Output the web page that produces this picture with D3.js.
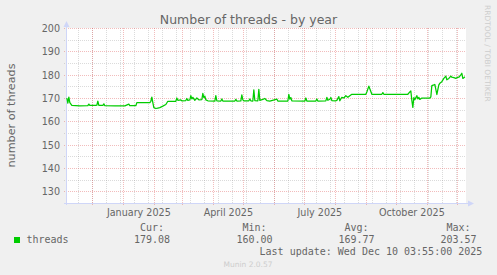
<!DOCTYPE html>
<html>
<head>
<meta charset="utf-8">
<script src="https://cdn.jsdelivr.net/npm/d3@7"></script>
<style>
  body { margin: 0; background: #F0F0F0; }
  svg { display: block; }
  text { font-family: "DejaVu Sans", sans-serif; fill: #666; }
  .mono { font-family: "DejaVu Sans Mono", monospace; }
</style>
</head>
<body>
<svg id="chart" width="497" height="275"></svg>
<script>
// daily averages
var days = [
  "2024-11-06","2024-11-07","2024-11-08","2024-11-09","2024-11-11","2024-11-19","2024-11-27","2024-11-28","2024-11-29",
  "2024-12-05","2024-12-06","2024-12-07","2024-12-08","2024-12-12","2024-12-13","2024-12-14","2024-12-24",
  "2025-01-03","2025-01-07","2025-01-08","2025-01-14","2025-01-15","2025-01-28","2025-01-29","2025-01-30","2025-01-31",
  "2025-02-01","2025-02-03","2025-02-05","2025-02-07","2025-02-10","2025-02-13","2025-02-15","2025-02-23","2025-02-24","2025-02-25","2025-02-28",
  "2025-03-01","2025-03-05","2025-03-06","2025-03-07","2025-03-09","2025-03-10","2025-03-11","2025-03-12","2025-03-14","2025-03-16","2025-03-18","2025-03-21","2025-03-22","2025-03-23","2025-03-24","2025-03-25","2025-03-27",
  "2025-04-03","2025-04-04","2025-04-05","2025-04-09","2025-04-10","2025-04-11","2025-04-23","2025-04-24","2025-04-25","2025-04-29","2025-04-30",
  "2025-05-01","2025-05-02","2025-05-07","2025-05-08","2025-05-09","2025-05-11","2025-05-12","2025-05-13","2025-05-16","2025-05-17","2025-05-18","2025-05-21","2025-05-23","2025-05-25","2025-05-28",
  "2025-06-04","2025-06-05","2025-06-15","2025-06-16","2025-06-17","2025-06-18","2025-06-19",
  "2025-07-02","2025-07-03","2025-07-04","2025-07-13","2025-07-14","2025-07-15","2025-07-23","2025-07-24","2025-07-25","2025-07-27","2025-07-28","2025-07-29",
  "2025-08-02","2025-08-03","2025-08-05","2025-08-06","2025-08-08","2025-08-10","2025-08-12","2025-08-14","2025-08-16","2025-08-18",
  "2025-09-01","2025-09-02","2025-09-04","2025-09-06","2025-09-07","2025-09-17","2025-09-18","2025-09-19",
  "2025-10-13","2025-10-15","2025-10-16","2025-10-17","2025-10-18","2025-10-19","2025-10-20","2025-10-22","2025-10-23","2025-10-24","2025-10-25","2025-10-27",
  "2025-11-04","2025-11-05","2025-11-06","2025-11-08","2025-11-09","2025-11-11","2025-11-13","2025-11-14","2025-11-16","2025-11-18","2025-11-20","2025-11-21","2025-11-23","2025-11-25","2025-11-26","2025-11-28","2025-11-30",
  "2025-12-01","2025-12-03","2025-12-05","2025-12-06","2025-12-07","2025-12-08","2025-12-09"
];
var threads = [
  170.0,167.8,170.4,168.0,166.8,166.6,166.7,167.4,166.8,
  166.8,166.9,168.7,166.8,166.8,167.5,166.7,166.6,
  166.6,167.4,166.7,166.7,168.0,168.0,168.6,170.4,168.0,
  165.9,165.5,165.7,165.9,166.5,167.2,168.6,168.6,170.0,169.0,169.2,
  168.8,168.9,169.8,169.0,169.2,171.0,169.6,170.3,169.0,170.0,169.2,169.3,172.0,170.2,170.8,169.2,168.8,
  168.7,171.0,168.8,168.7,169.6,168.7,168.7,169.4,168.7,168.8,171.3,
  169.2,168.8,168.8,169.6,168.8,168.7,173.5,168.9,168.8,173.7,169.0,169.4,169.8,168.9,168.7,
  169.5,168.7,168.7,171.6,169.5,170.2,168.8,
  168.7,170.0,168.7,168.7,169.6,168.7,168.8,170.3,169.0,169.5,170.2,168.9,
  168.8,169.0,170.6,168.8,170.3,170.0,171.0,170.3,171.0,171.6,
  171.6,172.6,175.1,172.8,171.6,171.6,172.3,171.6,
  171.6,172.6,173.0,169.0,166.0,170.2,169.3,171.0,169.6,170.3,169.4,170.0,
  170.0,170.5,175.3,175.6,175.8,171.5,175.6,176.3,177.0,178.4,179.4,177.8,178.4,179.4,178.9,178.7,178.4,
  178.7,178.9,179.9,180.6,178.4,178.7,179.1
];

var yTicks = [130, 140, 150, 160, 170, 180, 190, 200];
var monthLabels = ["January 2025", "April 2025", "July 2025", "October 2025"];
var labelMonths = ["2025-01", "2025-04", "2025-07", "2025-10"];
var statNames = ["Cur:", "Min:", "Avg:", "Max:"];
var statValues = ["179.08", "160.00", "169.77", "203.57"];
var seriesName = "threads";
var lastUpdate = "Last update: Wed Dec 10 03:55:00 2025";

var parseDay = d3.timeParse("%Y-%m-%d");
var parseMonth = d3.timeParse("%Y-%m");
var data = days.map(function(d, i) { return { t: parseDay(d), v: threads[i] }; });

var start = new Date(2024, 10, 5, 3, 55);
var end = new Date(2025, 11, 10, 3, 55);

var pL = 66, pR = 466, pT = 28, pB = 203;
var svg = d3.select("#chart");

var x = d3.scaleTime().domain([start, end]).range([pL, pR]);
var y = d3.scaleLinear().domain([125, 200]).range([pB, pT]);

var minorCol = "rgba(143,143,143,0.32)";
var majorCol = "rgba(222,79,79,0.38)";
var axisCol = "#CFD6F8";

// canvas
svg.append("rect").attr("x", pL).attr("y", pT)
  .attr("width", pR - pL).attr("height", pB - pT).attr("fill", "#fff");

// grid
var yMinor = d3.range(125, 201, 5).filter(function(v) { return v % 10 != 0; });
var anchor = new Date(2024, 10, 17);
var xMinor = d3.timeDay.range(start, end).filter(function(d) {
  return d3.timeDay.count(anchor, d) % 14 == 0;
});
var xMajor = d3.timeMonth.range(start, end);

var grid = svg.append("g").attr("shape-rendering", "crispEdges");
grid.selectAll(".hmin").data(yMinor).enter().append("line")
  .attr("x1", pL - 2).attr("x2", pR)
  .attr("y1", function(d) { return Math.round(y(d)) + 0.5; })
  .attr("y2", function(d) { return Math.round(y(d)) + 0.5; })
  .attr("stroke", minorCol).attr("stroke-dasharray", "1,1");
grid.selectAll(".vmin").data(xMinor).enter().append("line")
  .attr("y1", pT).attr("y2", pB)
  .attr("x1", function(d) { return Math.round(x(d)) + 0.5; })
  .attr("x2", function(d) { return Math.round(x(d)) + 0.5; })
  .attr("stroke", minorCol).attr("stroke-dasharray", "1,1");
grid.selectAll(".hmaj").data(yTicks).enter().append("line")
  .attr("x1", pL - 2).attr("x2", pR)
  .attr("y1", function(d) { return Math.round(y(d)) + 0.5; })
  .attr("y2", function(d) { return Math.round(y(d)) + 0.5; })
  .attr("stroke", majorCol).attr("stroke-dasharray", "1,1");
grid.selectAll(".vmaj").data(xMajor).enter().append("line")
  .attr("y1", pT).attr("y2", pB + 3)
  .attr("x1", function(d) { return Math.round(x(d)) + 0.5; })
  .attr("x2", function(d) { return Math.round(x(d)) + 0.5; })
  .attr("stroke", majorCol).attr("stroke-dasharray", "1,1");

// axes lines + arrows
svg.append("line").attr("x1", pL + 0.5).attr("x2", pL + 0.5)
  .attr("y1", pB + 2).attr("y2", pT - 2).attr("stroke", axisCol);
svg.append("line").attr("x1", pL - 2).attr("x2", pR + 2)
  .attr("y1", pB + 0.5).attr("y2", pB + 0.5).attr("stroke", axisCol);
svg.append("path").attr("d", "M63.5,27 L66.5,21 L69.5,27 Z").attr("fill", axisCol);
svg.append("path").attr("d", "M468,200.5 L474,203.5 L468,206.5 Z").attr("fill", axisCol);

// data line
var line = d3.line().x(function(d) { return x(d.t); }).y(function(d) { return y(d.v); });
svg.append("path").datum(data).attr("d", line)
  .attr("fill", "none").attr("stroke", "#00CC00").attr("stroke-width", 1.25)
  .attr("stroke-linejoin", "round");

// y axis labels
var yAxis = d3.axisLeft(y).tickValues(yTicks).tickSize(0).tickPadding(6);
var gy = svg.append("g").attr("transform", "translate(" + pL + ",0)").call(yAxis);
gy.select(".domain").remove();
gy.selectAll("text").attr("font-size", "9.6px").attr("fill", "#666")
  .attr("font-family", "DejaVu Sans").attr("dy", "0.36em");

// x axis labels, centred in their month
var mids = labelMonths.map(function(m) {
  var a = parseMonth(m), b = d3.timeMonth.offset(a, 1);
  return new Date((a.getTime() + b.getTime()) / 2);
});
var xAxis = d3.axisBottom(x).tickValues(mids)
  .tickFormat(function(d, i) { return monthLabels[i]; }).tickSize(0).tickPadding(0);
var gx = svg.append("g").attr("transform", "translate(0," + pB + ")").call(xAxis);
gx.select(".domain").remove();
gx.selectAll("text").attr("font-size", "9.6px").attr("fill", "#666")
  .attr("font-family", "DejaVu Sans").attr("dy", null).attr("y", 12.5);

// title and labels
svg.append("text").attr("x", 248.5).attr("y", 24).attr("text-anchor", "middle")
  .attr("font-size", "12.5px").text("Number of threads - by year");
svg.append("text").attr("transform", "translate(15," + ((pT + pB) / 2) + ") rotate(-90)")
  .attr("text-anchor", "middle").attr("font-size", "11.2px").text("number of threads");
svg.append("text").attr("transform", "translate(485,5) rotate(90)")
  .attr("font-size", "7.5px").style("fill", "#cdcdcd").text("RRDTOOL / TOBI OETIKER");
svg.append("text").attr("x", 248).attr("y", 266.5).attr("text-anchor", "middle")
  .attr("font-size", "7.5px").style("fill", "#cdcdcd").text("Munin 2.0.57");

// legend
svg.append("rect").attr("x", 14).attr("y", 237).attr("width", 6).attr("height", 6).attr("fill", "#00CC00");
svg.append("text").attr("class", "mono").attr("x", 26.5).attr("y", 242.7)
  .attr("font-size", "10px").text(seriesName);
var colEnd = [170, 272.5, 374.5, 476.5];
statNames.forEach(function(s, i) {
  svg.append("text").attr("class", "mono").attr("x", colEnd[i] - 6).attr("y", 231)
    .attr("text-anchor", "end").attr("font-size", "10px").text(s);
  svg.append("text").attr("class", "mono").attr("x", colEnd[i]).attr("y", 242.7)
    .attr("text-anchor", "end").attr("font-size", "10px").text(statValues[i]);
});
svg.append("text").attr("class", "mono").attr("x", 482.3).attr("y", 254.5)
  .attr("text-anchor", "end").attr("font-size", "10px").text(lastUpdate);
</script>
</body>
</html>
